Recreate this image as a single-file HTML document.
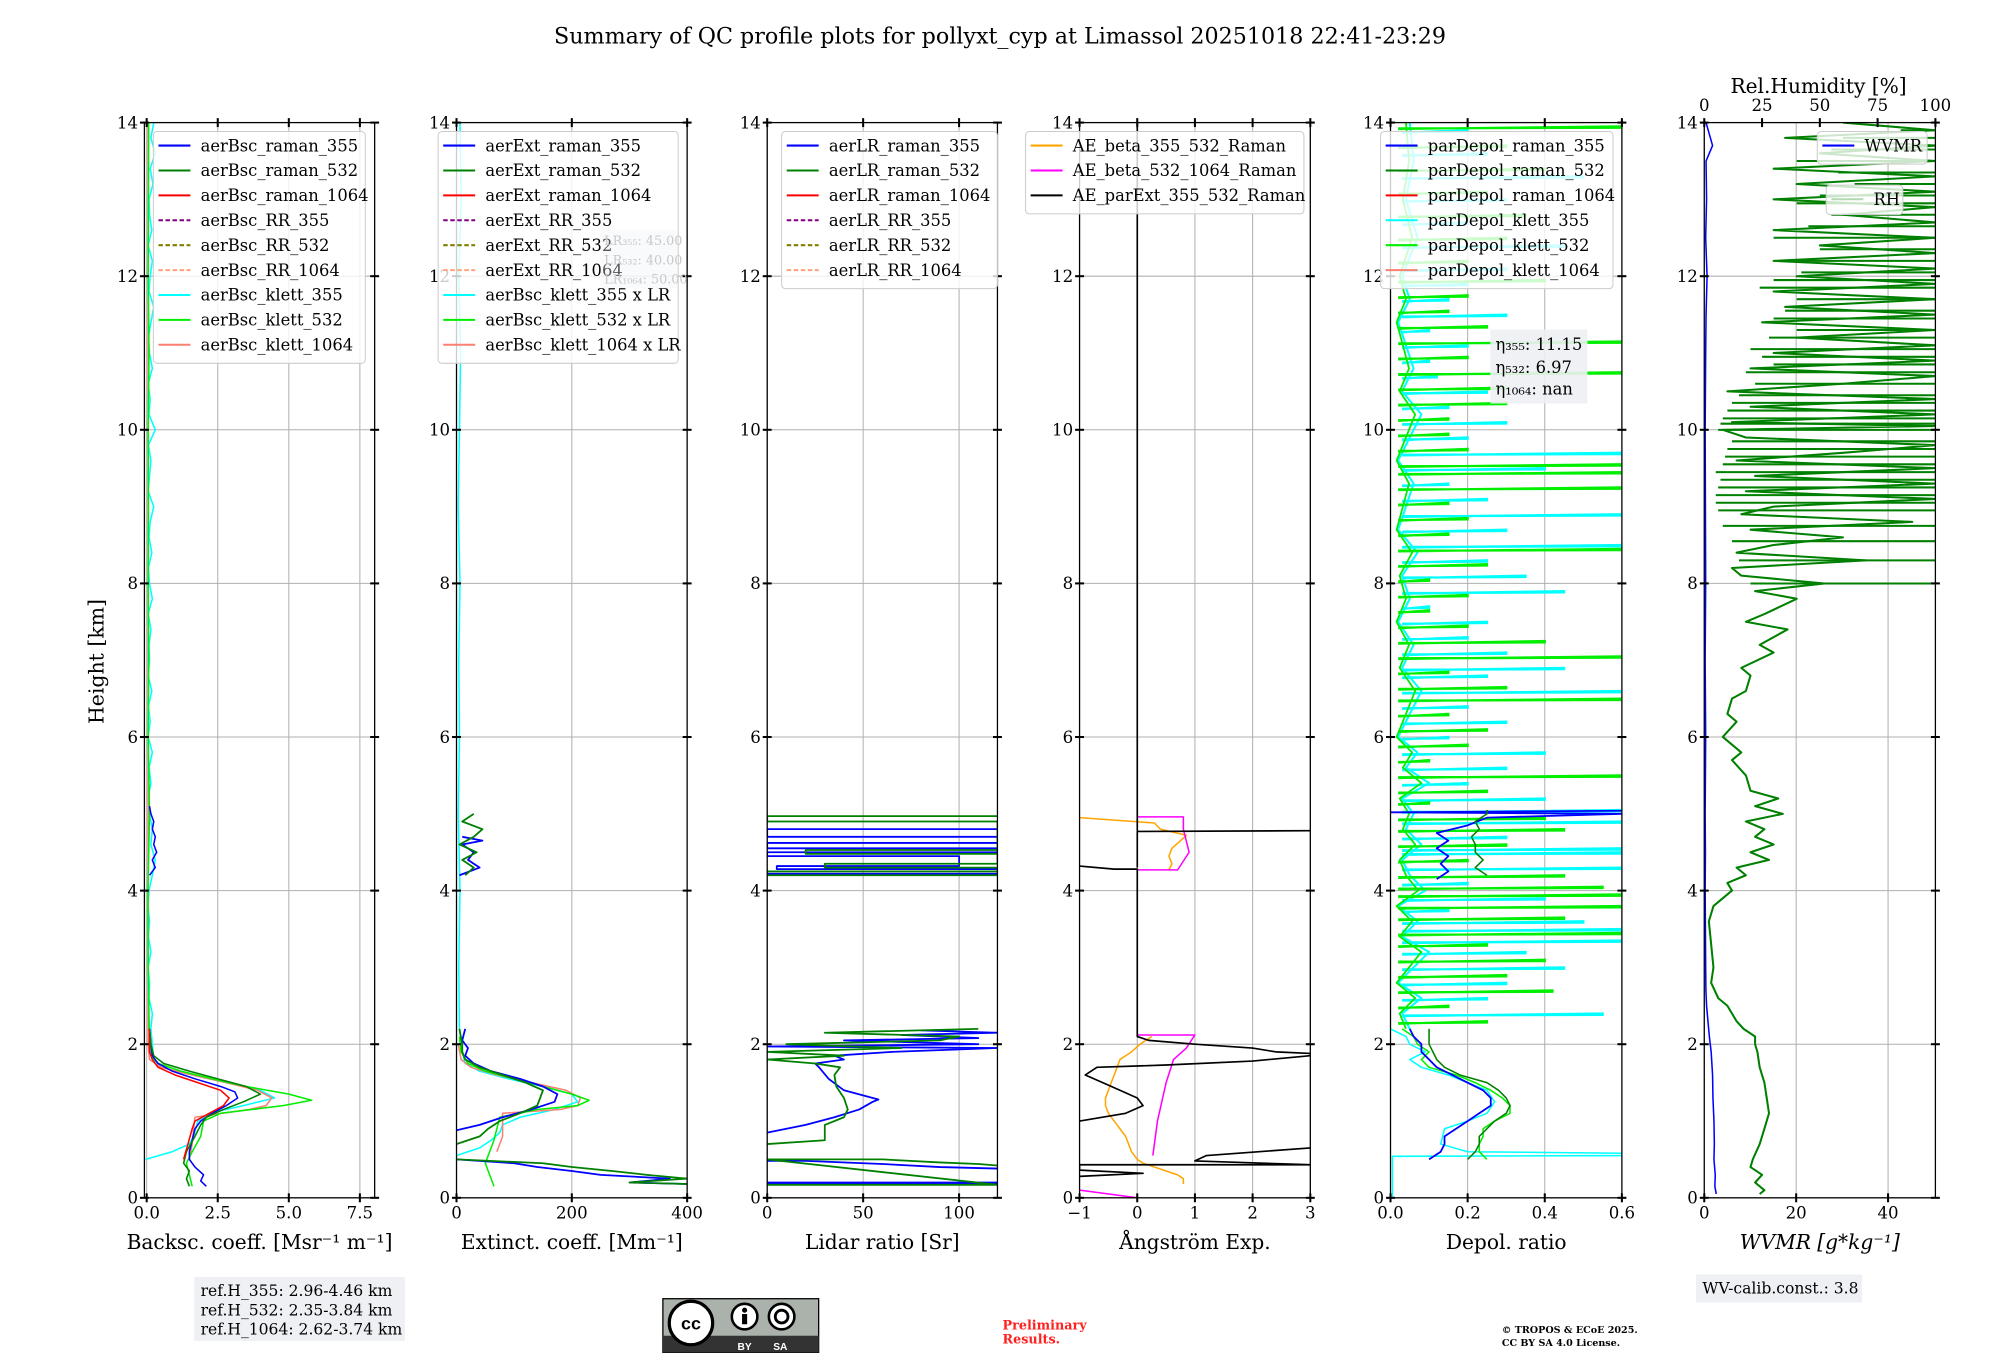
<!DOCTYPE html>
<html><head><meta charset="utf-8"><title>QC profile summary</title>
<style>
html,body{margin:0;padding:0;background:#fff;}
svg{display:block;font-family:"DejaVu Serif","Liberation Serif",serif;}
</style></head>
<body>
<svg id="fig" xmlns="http://www.w3.org/2000/svg" width="2000" height="1360" viewBox="0 0 1566 1065">
<rect x="0" y="0" width="1566" height="1065" fill="#fff"/>
<text x="783" y="34" font-size="17.4" text-anchor="middle">Summary of QC profile plots for pollyxt_cyp at Limassol 20251018 22:41-23:29</text>
<text x="0" y="0" font-size="16" text-anchor="middle" transform="translate(81,518) rotate(-90)">Height [km]</text>
<g id="plots"></g>
<g id="overlay"></g>
</svg>
<script>
// ---------- DATA (heights in km, values in axis units; null = gap) ----------
const bsc355H=[0.15,0.22,0.3,0.4,0.5,0.6,0.75,0.9,1.0,1.1,1.2,1.3,1.38,1.45,1.55,1.65,1.75,1.85,2.0,2.2,null,4.2,4.3,4.4,4.5,4.6,4.7,4.8,4.9,5.0,5.1];
const bsc355V=[2.1,1.9,2.0,1.7,1.5,1.5,1.6,1.7,1.9,2.3,2.8,3.2,3.1,2.6,1.7,0.9,0.4,0.2,0.15,0.1,null,0.1,0.3,0.2,0.35,0.25,0.3,0.2,0.25,0.15,0.1];
const bsc532H=[0.15,0.25,0.35,0.45,0.6,0.8,0.95,1.05,1.15,1.25,1.35,1.45,1.55,1.65,1.75,1.85,2.0,2.2];
const bsc532V=[1.5,1.4,1.5,1.3,1.4,1.7,1.9,2.1,2.7,3.4,4.0,3.5,2.5,1.5,0.6,0.25,0.15,0.1];
const bsc1064H=[0.5,0.7,0.9,1.0,1.1,1.2,1.3,1.4,1.5,1.6,1.7,1.8,1.9,2.2];
const bsc1064V=[1.3,1.45,1.6,1.7,2.2,2.7,2.9,2.6,1.8,1.0,0.4,0.2,0.1,0.1];
const bscK355H=[0.5,0.6,0.7,0.8,1.0,1.1,1.2,1.3,1.4,1.5,1.6,1.7,1.8,2.0,2.2,2.4,2.6,2.8,3.0,3.2,3.4,3.6,3.8,4.0,4.2,4.4,4.6,4.8,5.0,5.2,5.4,5.6,5.8,6.0,6.2,6.4,6.6,6.8,7.0,7.2,7.4,7.6,7.8,8.0,8.2,8.4,8.6,8.8,9.0,9.2,9.4,9.6,9.8,10.0,10.2,10.4,10.6,10.8,11.0,11.2,11.4,11.6,11.8,12.0,12.2,12.4,12.6,12.8,13.0,13.2,13.4,13.6,13.8,14.0];
const bscK355V=[-0.05,0.9,1.5,1.65,1.8,2.2,3.4,4.5,4.0,2.8,1.6,0.5,0.25,0.2,0.15,0.2,0.08,0.1,0.05,0.15,0.06,0.1,0.05,0.08,0.2,0.3,0.15,0.2,0.1,0.05,0.15,0.08,0.2,0.05,0.12,0.06,0.18,0.05,0.1,0.08,0.15,0.05,0.2,0.1,0.06,0.18,0.08,0.12,0.25,0.05,0.1,0.15,0.06,0.3,0.08,0.12,0.05,0.2,0.1,0.06,0.15,0.25,0.08,0.12,0.2,0.05,0.18,0.1,0.08,0.22,0.12,0.3,0.15,0.25];
const bscK532H=[0.15,0.3,0.45,0.6,0.8,1.0,1.1,1.2,1.27,1.35,1.45,1.55,1.65,1.75,1.85,2.0,3.0,4.0,5.0,6.0,7.0,8.0,9.0,10.0,11.0,12.0,13.0,14.0];
const bscK532V=[1.6,1.5,1.4,1.6,1.9,2.0,2.6,4.8,5.8,5.0,3.5,2.3,1.2,0.4,0.15,0.1,0.05,0.04,0.1,0.05,0.07,0.05,0.06,0.05,0.08,0.05,0.06,0.07];
const bscK1064H=[0.5,0.7,0.9,1.05,1.15,1.2,1.3,1.4,1.5,1.6,1.7,1.8,2.0,14];
const bscK1064V=[1.5,1.6,1.65,1.7,3.6,4.2,4.4,3.9,2.8,1.6,0.5,0.1,0.05,0.05];

const ext355H=[0.18,0.2,0.25,0.3,0.35,0.4,0.45,0.5,null,0.88,0.95,1.05,1.15,1.25,1.35,1.45,1.55,1.65,1.75,1.85,1.95,2.05,2.2,null,4.2,4.3,4.4,4.5,4.6,4.65,4.7];
const ext355V=[400,300,370,250,200,140,100,0,null,0,40,80,130,170,175,150,110,60,30,15,20,10,15,null,5,40,20,30,10,45,10];
const ext532H=[0.18,0.2,0.25,0.3,0.35,0.4,0.45,0.5,null,0.7,0.8,0.9,1.0,1.1,1.2,1.3,1.4,1.5,1.6,1.7,1.8,1.9,2.0,2.2,null,4.2,4.3,4.4,4.5,4.6,4.7,4.8,4.9,5.0];
const ext532V=[400,300,400,330,270,200,150,0,null,0,40,55,75,110,140,145,150,120,80,40,15,10,10,5,null,15,30,10,35,5,30,45,10,30];
const extK355H=[0.55,0.65,0.75,0.85,0.95,1.05,1.15,1.25,1.35,1.45,1.55,1.65,1.75,1.9,2.2,3,4,5,6,7,8,9,10,11,12,13,14];
const extK355V=[0,40,60,75,80,110,170,210,200,150,90,40,15,10,5,4,6,3,5,4,6,3,5,7,4,8,6];
const extK532H=[0.15,0.25,0.35,0.45,0.55,0.65,0.75,0.9,1.05,1.15,1.2,1.27,1.35,1.45,1.55,1.65,1.75,1.9,2.1];
const extK532V=[65,60,55,50,55,60,65,70,75,140,210,230,200,150,100,50,20,8,5];
const extK1064H=[0.6,0.8,1.0,1.1,1.15,1.2,1.3,1.4,1.5,1.6,1.7,1.8,2.0];
const extK1064V=[70,80,80,80,180,210,215,190,130,70,25,8,3];

const lr355H=[0.18,0.18,0.2,0.2,null,0.38,0.4,0.44,0.48,0.48,null,0.85,0.95,1.05,1.15,1.25,1.28,1.4,1.55,1.7,1.75,1.8,1.85,1.9,1.95,1.97,2.0,2.05,2.08,2.12,2.15,2.18,null,4.22,4.22,4.28,4.28,4.32,4.32,4.45,4.45,4.5,4.5,4.55,4.55,4.62,4.62,4.7,4.7,4.8,4.8];
const lr355V=[0,120,120,0,null,120,90,60,20,0,null,0,20,35,48,55,58,40,32,27,25,40,35,65,120,0,110,40,110,70,120,80,null,0,120,120,5,5,100,100,0,0,120,120,0,0,120,120,0,0,120];
const lr532H=[0.17,0.17,0.5,0.5,0.46,0.44,0.42,null,0.7,0.75,0.85,0.95,1.05,1.15,1.3,1.45,1.6,1.7,1.75,1.8,1.85,1.9,1.95,2.0,2.05,2.1,2.15,2.2,null,4.2,4.2,4.25,4.25,4.3,4.3,4.35,4.35,4.48,4.48,4.53,4.53,4.9,4.9,4.97,4.97];
const lr532V=[0,120,0,60,90,110,120,null,0,30,30,30,40,42,40,36,35,38,25,0,40,0,70,10,90,100,30,110,null,120,0,0,120,120,30,30,120,120,20,20,120,120,0,0,120];

const aeB355H=[0.18,0.25,0.3,0.35,0.4,0.45,0.5,0.6,0.7,0.8,0.9,1.0,1.1,1.2,1.3,1.4,1.5,1.6,1.7,1.8,1.9,2.0,2.1,null,4.27,4.35,4.45,4.55,4.65,4.72,4.8,4.88,4.95];
const aeB355V=[0.8,0.8,0.7,0.5,0.3,0.1,0,-0.1,-0.15,-0.2,-0.3,-0.4,-0.5,-0.55,-0.55,-0.5,-0.45,-0.4,-0.35,-0.3,-0.1,0.05,0.25,null,0.55,0.6,0.55,0.6,0.75,0.85,0.4,0.3,-1];
const aeB532H=[0.1,0.0,null,0.55,1.0,1.5,1.8,1.95,2.12,2.12,null,4.27,4.27,4.5,4.8,4.96,4.96];
const aeB532V=[-1,0,null,0.27,0.35,0.5,0.63,0.85,1.0,0,null,0,0.7,0.9,0.8,0.8,0];
const aeExtH=[0.28,0.32,0.36,0.43,0.43,0.48,0.55,0.65,null,1.0,1.1,1.2,1.3,1.4,1.5,1.6,1.7,1.73,1.78,1.85,1.88,1.9,1.95,2.0,2.05,2.1,2.13,4.28,4.28,4.32,null,4.3,4.77,4.78,null,4.78,14];
const aeExtV=[-1,0.1,-1,-1,3,1.0,1.2,3,null,-1,-0.2,0.1,0.0,-0.3,-0.6,-0.9,-0.7,0.5,2.0,3,3,2.4,2.0,1.0,0.2,0,0,0,-0.4,-1,null,0,0,3,null,0,0];

const dp355H=[0.5,0.6,0.7,0.8,0.9,1.0,1.1,1.2,1.3,1.4,1.5,1.6,1.7,1.8,1.85,1.9,2.0,2.1,2.2,null,4.15,4.25,4.35,4.45,4.55,4.65,4.75,4.85,4.95,5.0,5.02,5.04];
const dp355V=[0.1,0.13,0.14,0.14,0.17,0.2,0.23,0.26,0.26,0.24,0.2,0.16,0.12,0.1,0.09,0.08,0.08,0.06,0.05,null,0.12,0.15,0.13,0.15,0.12,0.15,0.12,0.2,0.25,0.6,0.0,0.6];
const dp532H=[0.5,0.6,0.7,0.8,0.9,1.0,1.1,1.2,1.3,1.4,1.5,1.6,1.7,1.8,1.9,2.0,2.1,2.2,null,4.2,4.3,4.4,4.5,4.6,4.7,4.8,4.9,5.0,5.05];
const dp532V=[0.2,0.22,0.23,0.23,0.25,0.27,0.3,0.31,0.3,0.28,0.25,0.18,0.14,0.12,0.11,0.1,0.1,0.1,null,0.25,0.22,0.24,0.22,0.22,0.21,0.23,0.22,0.25,0.25];
const dpK355H=[0,0.3,0.54,0.55,0.58,0.6,0.7,0.9,1.0,1.1,1.25,1.4,1.5,1.6,1.7,1.8,1.9,2.0,2.1,2.2];
const dpK355V=[0.005,0.005,0.005,0.6,0.6,0.2,0.13,0.14,0.2,0.25,0.27,0.25,0.2,0.15,0.08,0.05,0.09,0.05,0.04,0.0];
const dpK532H=[0.5,0.6,0.7,0.8,0.9,1.0,1.1,1.2,1.3,1.4,1.5,1.6,1.7,1.8,1.9,2.0,2.1,2.2];
const dpK532V=[0.25,0.23,0.23,0.24,0.24,0.27,0.31,0.31,0.29,0.26,0.22,0.17,0.1,0.08,0.1,0.07,0.06,0.03];
// noisy baseline near zero above 2.2 km
const dpBaseH=[2.2,2.4,2.6,2.8,3.0,3.2,3.4,3.6,3.8,4.0,4.2,4.4,4.6,4.8,5.0,5.2,5.4,5.6,5.8,6.0,6.3,6.6,6.9,7.2,7.5,7.8,8.1,8.4,8.7,9.0,9.3,9.6,9.9,10.2,10.5,10.8,11.1,11.4,11.7,12.0,12.5,13.0,13.5,14.0];
const dpBaseV=[0.05,0.03,0.08,0.02,0.06,0.1,0.03,0.07,0.02,0.09,0.05,0.03,0.08,0.04,0.06,0.03,0.1,0.04,0.07,0.02,0.05,0.08,0.03,0.06,0.02,0.05,0.03,0.07,0.02,0.04,0.06,0.02,0.05,0.08,0.03,0.06,0.04,0.02,0.05,0.03,0.07,0.04,0.06,0.05];
const spikeK355H=[2.4,2.6,2.8,3.0,3.2,3.35,3.5,3.6,3.75,3.9,4.1,4.3,4.5,4.55,4.7,4.9,5.05,5.2,5.4,5.6,5.8,6.0,6.2,6.4,6.6,6.8,6.9,7.1,7.3,7.5,7.7,7.9,8.1,8.3,8.5,8.7,8.9,9.1,9.3,9.5,9.7,9.9,10.1,10.3,10.5,10.7,10.9,11.1,11.3,11.5,11.7,11.9,12.1,12.4,12.7,13.0,13.3,13.6,13.9];
const spikeK355V=[0.55,0.25,0.3,0.45,0.35,0.6,0.6,0.5,0.15,0.4,0.2,0.6,0.6,0.6,0.3,0.6,0.6,0.4,0.2,0.3,0.4,0.15,0.3,0.2,0.6,0.25,0.45,0.3,0.2,0.25,0.1,0.45,0.35,0.25,0.6,0.3,0.6,0.25,0.15,0.4,0.6,0.2,0.3,0.15,0.25,0.12,0.1,0.2,0.1,0.3,0.15,0.2,0.3,0.45,0.2,0.3,0.5,0.25,0.2];
const spikeK532H=[2.3,2.5,2.7,2.9,3.1,3.3,3.45,3.65,3.8,3.95,4.05,4.2,4.4,4.6,4.8,4.95,5.15,5.3,5.5,5.7,5.9,6.1,6.3,6.5,6.65,6.85,7.05,7.25,7.45,7.65,7.85,8.05,8.25,8.45,8.65,8.85,9.05,9.25,9.45,9.55,9.75,9.95,10.15,10.35,10.55,10.75,10.95,11.15,11.35,11.55,11.75,11.95,12.2,12.5,12.8,13.1,13.4,13.7,13.95];
const spikeK532V=[0.25,0.15,0.42,0.3,0.4,0.25,0.6,0.45,0.6,0.6,0.55,0.45,0.2,0.3,0.45,0.4,0.1,0.25,0.6,0.1,0.2,0.25,0.15,0.6,0.3,0.15,0.6,0.4,0.2,0.1,0.2,0.1,0.25,0.6,0.15,0.2,0.15,0.6,0.6,0.6,0.2,0.15,0.15,0.3,0.3,0.6,0.2,0.6,0.25,0.15,0.2,0.4,0.2,0.3,0.35,0.25,0.4,0.3,0.6];

const rhH=[0.05,0.1,0.2,0.3,0.4,0.5,0.7,0.9,1.1,1.3,1.5,1.7,1.9,2.0,2.1,2.2,2.3,2.5,2.6,2.8,3.0,3.3,3.6,3.8,4.0,4.1,4.2,4.3,4.4,4.5,4.6,4.7,4.8,4.9,5.0,5.1,5.2,5.3,5.5,5.7,5.8,6.0,6.2,6.3,6.5,6.6,6.8,6.9,7.1,7.2,7.4,7.5,7.6,7.8,7.9,8.0,8.1,8.2,8.3,8.4,8.5,8.6,8.7,8.8,8.9,9.0,9.1,9.2,9.3,9.4,9.5,9.6,9.7,9.8,9.9,10.0,10.05,10.1,10.2,10.3,10.4,10.5,10.6,10.7,10.8,10.9,11.0,11.1,11.2,11.3,11.4,11.5,11.6,11.7,11.8,11.9,12.0,12.1,12.2,12.3,12.4,12.5,12.6,12.7,12.8,12.9,13.0,13.1,13.2,13.3,13.4,13.5,13.6,13.7,13.8,13.9,14.0];
const rhV=[24,26,22,25,20,21,24,26,28,27,26,24,23,22,22,17,14,10,6,3,4,3,2,4,12,10,18,14,28,20,30,22,26,18,34,22,32,20,18,12,16,8,14,10,12,18,20,16,30,24,36,18,26,40,22,52,16,12,70,14,30,60,20,90,16,30,100,18,100,22,100,14,60,100,18,8,100,12,100,20,100,10,60,100,20,100,30,100,40,100,25,100,35,100,30,100,40,100,30,100,50,100,30,100,60,100,30,100,40,100,30,100,50,100,35,100,60,100,100];
// RH horizontal excursions: start height and low RH value (line extends to 100 %)
const rhSpikeH=[8.0,8.3,8.55,8.75,8.95,9.05,9.15,9.25,9.35,9.45,9.55,9.65,9.75,9.85,10.0,10.08,10.15,10.25,10.35,10.45,10.6,10.75,10.85,10.95,11.05,11.2,11.3,11.45,11.55,11.7,11.85,11.95,12.05,12.2,12.35,12.5,12.65,12.8,12.95,13.05,13.2,13.35,13.5,13.65,13.8,13.9];
const rhSpikeV=[20,15,12,8,6,5,5,6,7,5,8,9,10,12,6,7,8,10,12,15,22,18,30,25,20,28,40,30,35,40,24,30,42,35,50,30,45,55,40,50,65,58,40,55,60,85];
const wvH=[0.05,0.15,0.3,0.5,0.7,1.0,1.3,1.6,1.9,2.1,2.3,2.5,2.7,3.0,3.5,4.0,4.5,5.0,6.0,7.0,8.0,9.0,10.0,11.0,11.5,12.0,12.5,13.0,13.5,13.7,14.0];
const wvV=[2.6,2.3,2.4,2.1,2.2,2.1,1.9,1.8,1.5,1.1,0.8,0.5,0.35,0.3,0.25,0.2,0.25,0.2,0.3,0.2,0.3,0.25,0.2,0.3,0.4,0.6,0.3,0.5,0.4,1.8,0.4];

// tick label arrays
const yTicks=[0,2,4,6,8,10,12,14];
const xTicks1=[0,2.5,5,7.5], xLabels1=['0.0','2.5','5.0','7.5'];
const xTicks2=[0,200,400], xLabels2=['0','200','400'];
const xTicks3=[0,50,100], xLabels3=['0','50','100'];
const xTicks4=[-1,0,1,2,3], xLabels4=['\u22121','0','1','2','3'];
const xTicks5=[0,0.2,0.4,0.6], xLabels5=['0.0','0.2','0.4','0.6'];
const xTicks6=[0,20,40], xLabels6=['0','20','40'];
const rhTicks=[0,25,50,75,100], rhLabels=['0','25','50','75','100'];

// ---------- DRAWING ----------
const NS='http://www.w3.org/2000/svg';
const plots=document.getElementById('plots');
const yB=938, yT=96;
function yS(h){return yB-(h/14)*(yB-yT);}
function mk(tag,attrs,parent){const e=document.createElementNS(NS,tag);for(const k in attrs)e.setAttribute(k,attrs[k]);(parent||plots).appendChild(e);return e;}
const panels=[
 {l:113,r:293.3,d:[-0.08,8.02],t:xTicks1,lb:xLabels1,title:'Backsc. coeff. [Msr\u207B\u00B9 m\u207B\u00B9]',n:'backscatter'},
 {l:357.4,r:538,d:[0,400],t:xTicks2,lb:xLabels2,title:'Extinct. coeff. [Mm\u207B\u00B9]',n:'extinction'},
 {l:600.7,r:781,d:[0,120],t:xTicks3,lb:xLabels3,title:'Lidar ratio [Sr]',n:'lidar-ratio'},
 {l:845.3,r:1026,d:[-1,3],t:xTicks4,lb:xLabels4,title:'\u00C5ngstr\u00F6m Exp.',n:'angstrom'},
 {l:1088.8,r:1270,d:[0,0.6],t:xTicks5,lb:xLabels5,title:'Depol. ratio',n:'depol'},
 {l:1334.5,r:1515.5,d:[0,50.3],t:xTicks6,lb:xLabels6,title:'WVMR [g*kg\u207B\u00B9]',n:'wvmr'}];
function xs(p,v){return p.l+(v-p.d[0])/(p.d[1]-p.d[0])*(p.r-p.l);}
function clipDef(p,i){
 let defs=document.querySelector('defs')||mk('defs',{});
 const cp=mk('clipPath',{id:'clip'+i},defs);
 mk('rect',{x:p.l,y:yT,width:p.r-p.l,height:yB-yT},cp);
}
function series(p,i,H,V,color,w,name,op){
 let d='',pen=false;
 for(let k=0;k<H.length;k++){
  if(H[k]===null||V[k]===null){pen=false;continue;}
  d+=(pen?'L':'M')+xs(p,V[k]).toFixed(1)+' '+yS(H[k]).toFixed(1);pen=true;
 }
 const e=mk('path',{d:d,fill:'none',stroke:color,'stroke-width':w,'stroke-linejoin':'round','clip-path':'url(#clip'+i+')'});
 if(op)e.setAttribute('stroke-opacity',op);
 
 
}
function spikes(p,i,H,V,base,color,w,name){
 let d='';
 for(let k=0;k<H.length;k++){
  const y=yS(H[k]);
  d+='M'+xs(p,base).toFixed(1)+' '+(y+2).toFixed(1)+'L'+xs(p,V[k]).toFixed(1)+' '+y.toFixed(1)+'L'+xs(p,V[k]).toFixed(1)+' '+(y+1).toFixed(1)+'L'+xs(p,base).toFixed(1)+' '+(y+1.5).toFixed(1);
 }
 const e=mk('path',{d:d,fill:'none',stroke:color,'stroke-width':w,'clip-path':'url(#clip'+i+')'});
 
 
}
function hbars(p,i,H,V,to,color,w,name){
 let d='';
 for(let k=0;k<H.length;k++){
  const y=yS(H[k]).toFixed(1);
  d+='M'+xs(p,V[k]).toFixed(1)+' '+y+'L'+xs(p,to).toFixed(1)+' '+y;
 }
 const e=mk('path',{d:d,fill:'none',stroke:color,'stroke-width':w,'clip-path':'url(#clip'+i+')'});
 
 
}
panels.forEach((p,i)=>{
 clipDef(p,i);
 const g=mk('g',{});
 
 
 p.t.forEach(v=>mk('line',{x1:xs(p,v),x2:xs(p,v),y1:yT,y2:yB,stroke:'#b0b0b0','stroke-width':0.8},g));
 yTicks.forEach(v=>mk('line',{x1:p.l,x2:p.r,y1:yS(v),y2:yS(v),stroke:'#b0b0b0','stroke-width':0.8},g));
});
const P=panels;
series(P[0],0,bscK355H,bscK355V,'#00ffff',1.2,'bsc-klett-355');
series(P[0],0,bscK1064H,bscK1064V,'#fa8072',1.2,'bsc-klett-1064');
series(P[0],0,bscK532H,bscK532V,'#00ee00',1.2,'bsc-klett-532');
series(P[0],0,bsc355H,bsc355V,'#0000ff',1.2,'bsc-raman-355');
series(P[0],0,bsc532H,bsc532V,'#008000',1.2,'bsc-raman-532');
series(P[0],0,bsc1064H,bsc1064V,'#ff0000',1.2,'bsc-raman-1064');
series(P[1],1,extK355H,extK355V,'#00ffff',1.2,'ext-klett-355');
series(P[1],1,extK1064H,extK1064V,'#fa8072',1.2,'ext-klett-1064');
series(P[1],1,extK532H,extK532V,'#00ee00',1.2,'ext-klett-532');
series(P[1],1,ext355H,ext355V,'#0000ff',1.4,'ext-raman-355');
series(P[1],1,ext532H,ext532V,'#008000',1.4,'ext-raman-532');
series(P[2],2,lr355H,lr355V,'#0000ff',1.4,'lr-raman-355');
series(P[2],2,lr532H,lr532V,'#008000',1.4,'lr-raman-532');
series(P[3],3,aeB355H,aeB355V,'#ffa500',1.2,'ae-beta-355-532');
series(P[3],3,aeB532H,aeB532V,'#ff00ff',1.2,'ae-beta-532-1064');
series(P[3],3,aeExtH,aeExtV,'#000000',1.3,'ae-parext-355-532');
series(P[4],4,dpBaseH,dpBaseV,'#00ffff',1.6,'depol-klett-355-baseline');
spikes(P[4],4,spikeK355H,spikeK355V,0.03,'#00ffff',1.8,'depol-klett-355-upper');
series(P[4],4,dpBaseH,dpBaseV.map(v=>v*0.8),'#00ee00',1.4,'depol-klett-532-baseline');
spikes(P[4],4,spikeK532H,spikeK532V,0.02,'#00ee00',1.8,'depol-klett-532-upper');
series(P[4],4,dpK355H,dpK355V,'#00ffff',1.2,'depol-klett-355');
series(P[4],4,dpK532H,dpK532V,'#00ee00',1.2,'depol-klett-532');
series(P[4],4,dp355H,dp355V,'#0000ff',1.4,'depol-raman-355');
series(P[4],4,dp532H,dp532V,'#008000',1.2,'depol-raman-532');
const rhP={l:P[5].l,r:P[5].r,d:[0,100]};
series(rhP,5,rhH,rhV,'#008000',1.6,'rh-profile');
hbars(rhP,5,rhSpikeH,rhSpikeV,100,'#008000',1.6,'rh-excursions');
series(P[5],5,wvH,wvV,'#0000ff',1.2,'wvmr-profile');

panels.forEach((p,i)=>{
 const g=mk('g',{});
 
 
 mk('rect',{x:p.l,y:yT,width:p.r-p.l,height:yB-yT,fill:'none',stroke:'#000','stroke-width':1},g);
 p.t.forEach((v,k)=>{
  const x=xs(p,v);
  mk('line',{x1:x,x2:x,y1:yB-3.5,y2:yB+3.5,stroke:'#000','stroke-width':1.6},g);
  if(i!==5) mk('line',{x1:x,x2:x,y1:yT-3.5,y2:yT+3.5,stroke:'#000','stroke-width':1.6},g);
  const t=mk('text',{x:x,y:yB+16,'font-size':13,'text-anchor':'middle'},g);
  t.textContent=p.lb[k];
  
  
 });
 yTicks.forEach(v=>{
  const y=yS(v);
  mk('line',{x1:p.l-3.5,x2:p.l+3.5,y1:y,y2:y,stroke:'#000','stroke-width':1.6},g);
  mk('line',{x1:p.r-3.5,x2:p.r+3.5,y1:y,y2:y,stroke:'#000','stroke-width':1.6},g);
  const t=mk('text',{x:p.l-5,y:y+4.5,'font-size':13,'text-anchor':'end'},g);
  t.textContent=String(v);
  
  
 });
 const tt=mk('text',{x:(p.l+p.r)/2,y:978,'font-size':15.8,'text-anchor':'middle'},g);
 tt.textContent=p.title;
 if(i===5){tt.setAttribute('font-style','italic');}
 
 
});
rhTicks.forEach((v,k)=>{
 const x=xs(rhP,v);
 mk('line',{x1:x,x2:x,y1:yT-3.5,y2:yT+3.5,stroke:'#000','stroke-width':1.6});
 const t=mk('text',{x:x,y:87,'font-size':13,'text-anchor':'middle'});
 t.textContent=rhLabels[k];
 
 
});
const rht=mk('text',{x:1424,y:73,'font-size':15.8,'text-anchor':'middle'});
rht.textContent='Rel.Humidity [%]';



const ov=document.getElementById('overlay');
function legend(x,y,w,entries,name){
 const g=mk('g',{},ov);
 
 
 mk('rect',{x:x,y:y,width:w,height:entries.length*19.5+6,rx:3,fill:'#fff','fill-opacity':0.8,stroke:'#cccccc','stroke-width':0.8},g);
 entries.forEach((e,k)=>{
  const yy=y+11+k*19.5;
  const ln=mk('line',{x1:x+4,x2:x+29,y1:yy,y2:yy,stroke:e[1],'stroke-width':1.6},g);
  if(e[2])ln.setAttribute('stroke-dasharray','3.5,2');
  const t=mk('text',{x:x+37,y:yy+4.5,'font-size':12.8},g);
  t.textContent=e[0];
  
  
 });
}
legend(120,103,166,[['aerBsc_raman_355','#0000ff'],['aerBsc_raman_532','#008000'],['aerBsc_raman_1064','#ff0000'],['aerBsc_RR_355','#800080',1],['aerBsc_RR_532','#808000',1],['aerBsc_RR_1064','#ffa07a',1],['aerBsc_klett_355','#00ffff'],['aerBsc_klett_532','#00ee00'],['aerBsc_klett_1064','#fa8072']],'backscatter-legend');
legend(343,103,188,[['aerExt_raman_355','#0000ff'],['aerExt_raman_532','#008000'],['aerExt_raman_1064','#ff0000'],['aerExt_RR_355','#800080',1],['aerExt_RR_532','#808000',1],['aerExt_RR_1064','#ffa07a',1],['aerBsc_klett_355 x LR','#00ffff'],['aerBsc_klett_532 x LR','#00ee00'],['aerBsc_klett_1064 x LR','#fa8072']],'extinction-legend');
legend(612,103,169,[['aerLR_raman_355','#0000ff'],['aerLR_raman_532','#008000'],['aerLR_raman_1064','#ff0000'],['aerLR_RR_355','#800080',1],['aerLR_RR_532','#808000',1],['aerLR_RR_1064','#ffa07a',1]],'lidar-ratio-legend');
legend(803,103,218,[['AE_beta_355_532_Raman','#ffa500'],['AE_beta_532_1064_Raman','#ff00ff'],['AE_parExt_355_532_Raman','#000000']],'angstrom-legend');
legend(1081,103,182,[['parDepol_raman_355','#0000ff'],['parDepol_raman_532','#008000'],['parDepol_raman_1064','#ff0000'],['parDepol_klett_355','#00ffff'],['parDepol_klett_532','#00ee00'],['parDepol_klett_1064','#fa8072']],'depol-legend');
legend(1423,103,86,[['WVMR','#0000ff']],'wvmr-legend');
(function(){
 const g=mk('g',{},ov);
 
 
 mk('rect',{x:1430,y:145,width:60,height:23,rx:3,fill:'#fff','fill-opacity':0.8,stroke:'#cccccc','stroke-width':0.8},g);
 mk('line',{x1:1434,x2:1459,y1:156,y2:156,stroke:'#008000','stroke-opacity':0.3,'stroke-width':1.6},g);
 const t=mk('text',{x:1467,y:160.5,'font-size':12.8},g);
 t.textContent='RH';
 
 
})();

(function(){
 function el(tag,a,p){const e=document.createElementNS(NS,tag);for(const k in a)e.setAttribute(k,a[k]);(p||ov).appendChild(e);return e;}
 const lrb=el('g',{});
 
 
 el('rect',{x:470,y:180,width:60,height:46,fill:'#eef0f4','fill-opacity':0.35},lrb);
 [['LR\u2083\u2085\u2085: 45.00',192],['LR\u2085\u2083\u2082: 40.00',207],['LR\u2081\u2080\u2086\u2084: 50.00',222]].forEach(r=>{const t=el('text',{x:473,y:r[1],'font-size':10,fill:'#c8c8c8'},lrb);t.textContent=r[0];});
 const eb=el('g',{});
 
 
 el('rect',{x:1167,y:258,width:76,height:58,fill:'#eef0f4','fill-opacity':0.9},eb);
 [['\u03B7\u2083\u2085\u2085: 11.15',274],['\u03B7\u2085\u2083\u2082: 6.97',292],['\u03B7\u2081\u2080\u2086\u2084: nan',309]].forEach(r=>{const t=el('text',{x:1171,y:r[1],'font-size':12.8},eb);t.textContent=r[0];});
 const rb=el('g',{});
 
 
 el('rect',{x:152,y:1000,width:165,height:50,fill:'#eef0f4'},rb);
 [['ref.H_355: 2.96-4.46 km',1015],['ref.H_532: 2.35-3.84 km',1030],['ref.H_1064: 2.62-3.74 km',1045]].forEach(r=>{const t=el('text',{x:157,y:r[1],'font-size':12.2},rb);t.textContent=r[0];});
 const wb=el('g',{});
 
 
 el('rect',{x:1328,y:998,width:130,height:22,fill:'#eef0f4'},wb);
 const wt=el('text',{x:1333,y:1013,'font-size':12.2},wb);wt.textContent='WV-calib.const.: 3.8';
 const cc=el('g',{});
 
 
 el('rect',{x:519,y:1017,width:122,height:42,fill:'#aab2ab',stroke:'#000','stroke-width':1},cc);
 el('rect',{x:519,y:1046,width:122,height:13,fill:'#333'},cc);
 el('circle',{cx:541,cy:1036,r:17,fill:'#fff',stroke:'#000','stroke-width':2.5},cc);
 const c1=el('text',{x:541,y:1041,'font-size':14,'font-weight':'bold','text-anchor':'middle','font-family':'Liberation Sans, sans-serif'},cc);c1.textContent='cc';
 el('circle',{cx:583,cy:1031,r:10,fill:'#fff',stroke:'#000','stroke-width':2},cc);
 el('circle',{cx:583,cy:1026,r:2,fill:'#000'},cc);
 el('rect',{x:581,y:1029,width:4,height:8,fill:'#000'},cc);
 el('circle',{cx:612,cy:1031,r:10,fill:'#fff',stroke:'#000','stroke-width':2},cc);
 el('circle',{cx:612,cy:1031,r:5,fill:'none',stroke:'#000','stroke-width':2.2},cc);
 const b1=el('text',{x:583,y:1057,'font-size':8,fill:'#fff','text-anchor':'middle','font-family':'Liberation Sans, sans-serif','font-weight':'bold'},cc);b1.textContent='BY';
 const b2=el('text',{x:611,y:1057,'font-size':8,fill:'#fff','text-anchor':'middle','font-family':'Liberation Sans, sans-serif','font-weight':'bold'},cc);b2.textContent='SA';
 const pr=el('text',{x:785,y:1041,'font-size':10,'font-weight':'bold',fill:'#ff2020'});pr.textContent='Preliminary';
 
 
 const pr2=el('text',{x:785,y:1052,'font-size':10,'font-weight':'bold',fill:'#ff2020'});pr2.textContent='Results.';
 
 
 const cp=el('text',{x:1176,y:1044,'font-size':7.5,'font-weight':'bold'});cp.textContent='\u00A9 TROPOS & ECoE 2025.';
 
 
 const cp2=el('text',{x:1176,y:1054,'font-size':7.5,'font-weight':'bold'});cp2.textContent='CC BY SA 4.0 License.';
 
 
})();
</script>
</body></html>
